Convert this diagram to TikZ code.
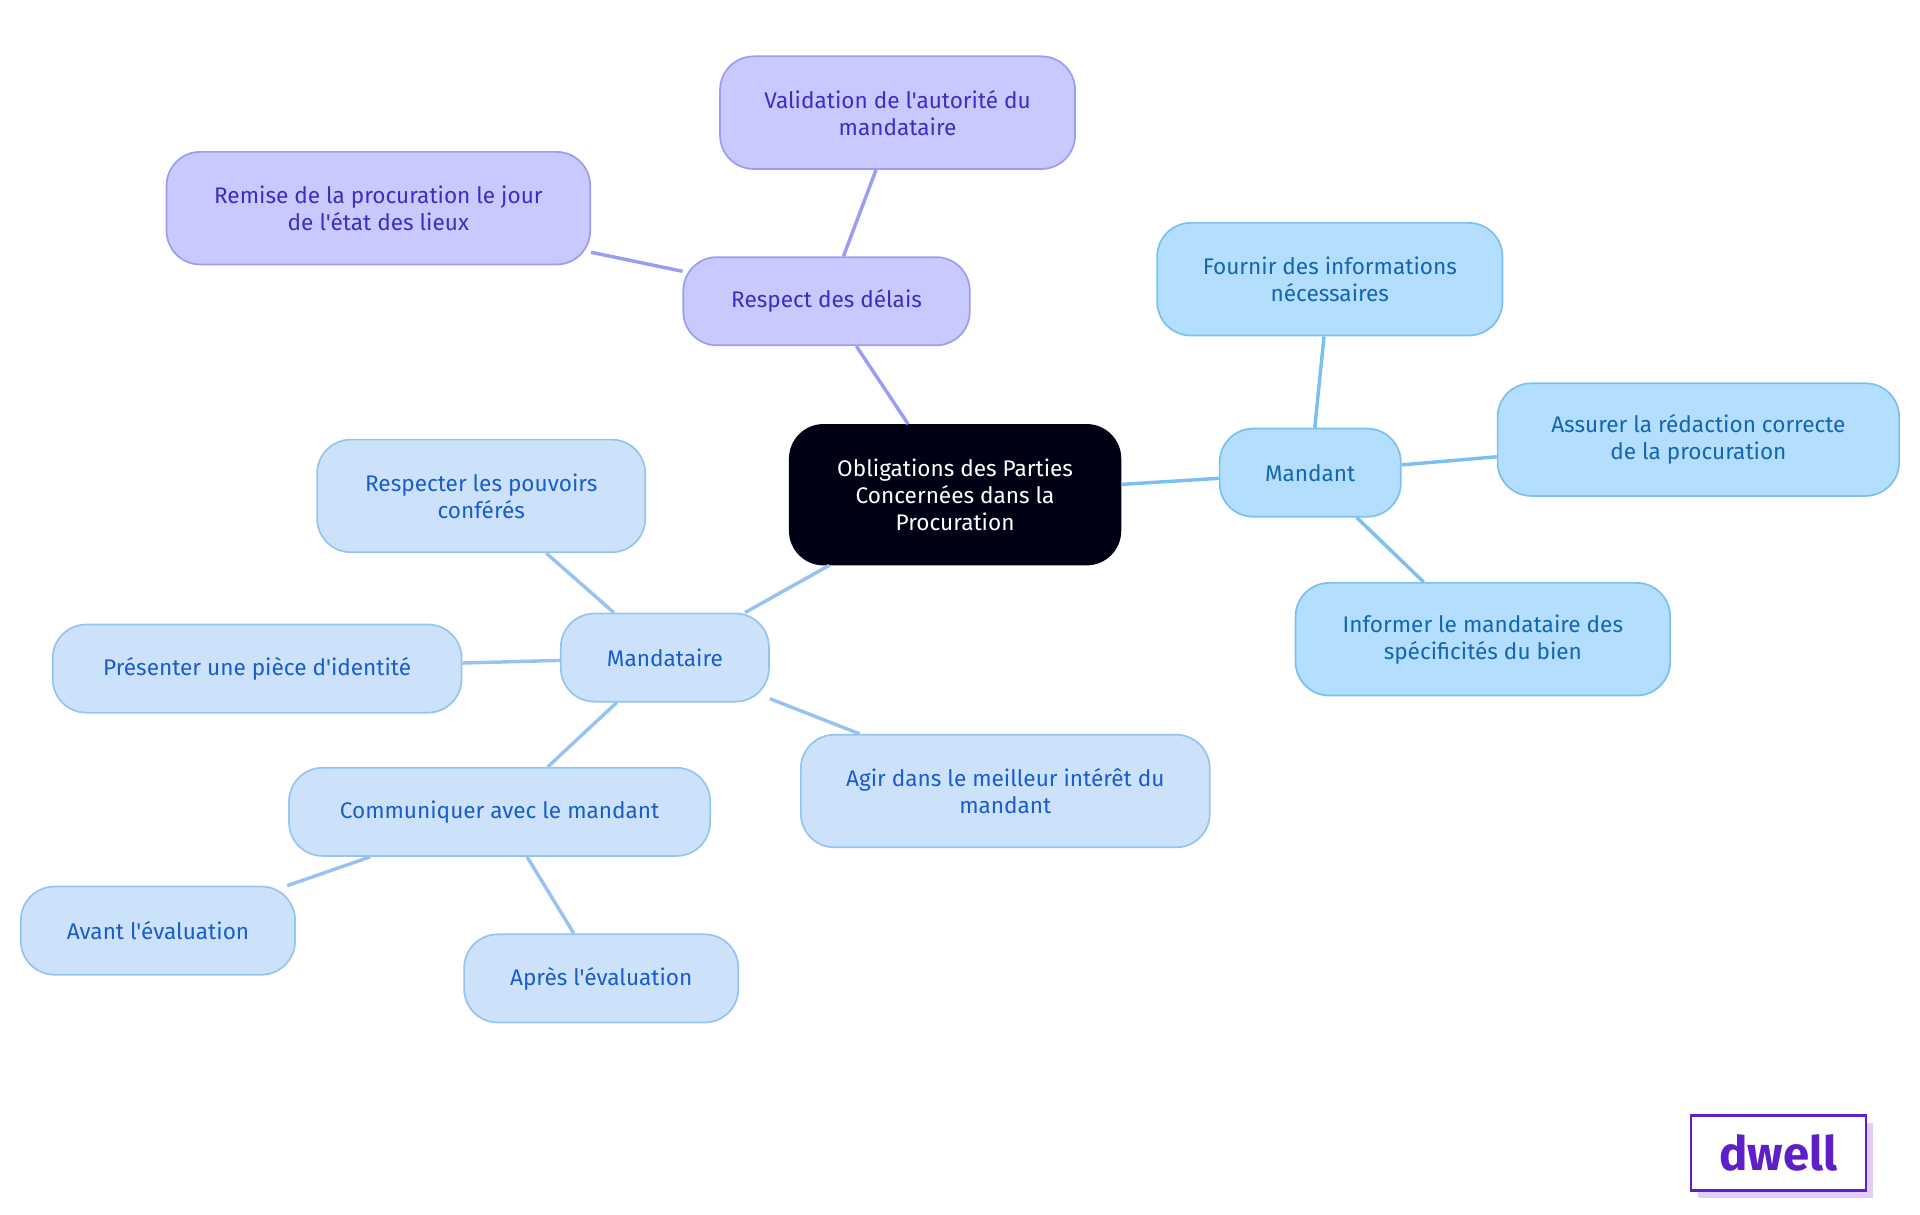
\documentclass[tikz,border=0pt]{standalone}
\usepackage{fontspec}
\setmainfont{Fira Sans}[Ligatures=TeXOff]
\newcommand{\apo}{'}
\begin{document}
\begin{tikzpicture}[x=0.02cm,y=-0.02cm,
 base/.style={rounded corners=0.55cm,line width=0.8pt,align=center,font=\fontsize{10.5}{12.5}\selectfont,inner sep=0pt},
 pur/.style={base,fill=purfill,draw=purdraw,text=purtext},
 man/.style={base,fill=manfill,draw=mandraw,text=mantext},
 mdt/.style={base,fill=mdtfill,draw=mdtdraw,text=mdttext},
 ep/.style={draw=purdraw,line width=1.6pt},
 em/.style={draw=mandraw,line width=1.6pt},
 ed/.style={draw=mdtdraw,line width=1.6pt}]
\definecolor{purfill}{HTML}{C9C9FD}\definecolor{purdraw}{HTML}{9C9CF2}\definecolor{purtext}{HTML}{3A2FC0}
\definecolor{manfill}{HTML}{B3DEFD}\definecolor{mandraw}{HTML}{7CC0F0}\definecolor{mantext}{HTML}{1565B0}
\definecolor{mdtfill}{HTML}{CCE2FB}\definecolor{mdtdraw}{HTML}{97C3F0}\definecolor{mdttext}{HTML}{1A5DC8}
\definecolor{logo}{HTML}{5E1EC8}\definecolor{logosh}{HTML}{E2CCF8}
\useasboundingbox (0,0) rectangle (1568,992);
\node[base,fill=black!92!blue,draw=black!92!blue,text=white,minimum width=5.4cm,minimum height=2.28cm] (c) at (780,404) {Obligations des Parties\\Concernées dans la\\Procuration};
\node[pur,minimum width=4.68cm,minimum height=1.44cm] (r) at (675,246) {Respect des délais};
\node[pur,minimum width=5.8cm,minimum height=1.84cm] (v) at (733,92) {Validation de l\apo autorité du\\mandataire};
\node[pur,minimum width=6.92cm,minimum height=1.84cm] (rm) at (309,170) {Remise de la procuration le jour\\de l\apo état des lieux};
\node[man,minimum width=2.96cm,minimum height=1.44cm] (m) at (1070,386) {Mandant};
\node[man,minimum width=5.64cm,minimum height=1.84cm] (f) at (1086,228) {Fournir des informations\\nécessaires};
\node[man,minimum width=6.56cm,minimum height=1.84cm] (a) at (1387,359) {Assurer la rédaction correcte\\de la procuration};
\node[man,minimum width=6.12cm,minimum height=1.84cm] (i) at (1211,522) {Informer le mandataire des\\spécificités du bien};
\node[mdt,minimum width=3.4cm,minimum height=1.44cm] (d) at (543,537) {Mandataire};
\node[mdt,minimum width=5.36cm,minimum height=1.84cm] (rp) at (393,405) {Respecter les pouvoirs\\conférés};
\node[mdt,minimum width=6.68cm,minimum height=1.44cm] (p) at (210,546) {Présenter une pièce d\apo identité};
\node[mdt,minimum width=6.68cm,minimum height=1.84cm] (ag) at (821,646) {Agir dans le meilleur intérêt du\\mandant};
\node[mdt,minimum width=6.88cm,minimum height=1.44cm] (co) at (408,663) {Communiquer avec le mandant};
\node[mdt,minimum width=4.48cm,minimum height=1.44cm] (av) at (129,760) {Avant l\apo évaluation};
\node[mdt,minimum width=4.48cm,minimum height=1.44cm] (ap) at (491,799) {Après l\apo évaluation};
\draw[ep] (c) -- (r); \draw[ep] (r) -- (v); \draw[ep] (r) -- (rm);
\draw[em] (c) -- (m); \draw[em] (m) -- (f); \draw[em] (m) -- (a); \draw[em] (m) -- (i);
\draw[ed] (c) -- (d); \draw[ed] (d) -- (rp); \draw[ed] (d) -- (p); \draw[ed] (d) -- (ag); \draw[ed] (d) -- (co);
\draw[ed] (co) -- (av); \draw[ed] (co) -- (ap);
% logo
\fill[logosh] (1387,917) rectangle (1530,978);
\node[draw=logo,fill=white,line width=1.2pt,minimum width=2.86cm,minimum height=1.22cm,text=logo,font=\fontsize{22}{24}\selectfont\bfseries] (logo) at (1452.5,941.5) {dwell};
\end{tikzpicture}
\end{document}
